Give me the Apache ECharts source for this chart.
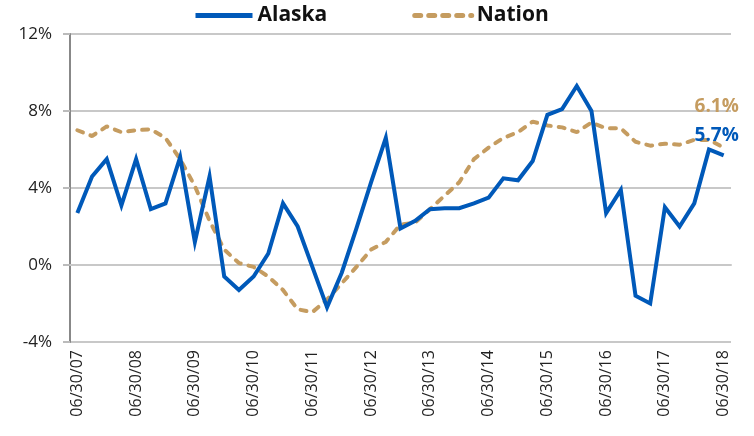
<!DOCTYPE html>
<html>
<head>
<meta charset="utf-8">
<script src="https://cdn.jsdelivr.net/npm/echarts@6/dist/echarts.min.js"></script>
<style>html,body{margin:0;padding:0;background:#fff}#c{width:754px;height:436px}</style>
</head>
<body>
<div id="c"></div>
<script>
const years = ['07','08','09','10','11','12','13','14','15','16','17','18'];
const quarters = ['06/30','09/30','12/31','03/31'];
const categories = [];
for (let y = 0; y < years.length; y++) {
  for (let q = 0; q < 4; q++) {
    if (y === years.length - 1 && q > 0) break;
    const yr = q === 3 ? years[y + 1] : years[y];
    categories.push(quarters[q] + '/' + yr);
  }
}
const alaska = [2.7,4.6,5.5,3.1,5.5,2.9,3.2,5.6,1.2,4.6,-0.6,-1.3,-0.6,0.6,3.2,2.0,-0.1,-2.2,-0.4,1.9,4.3,6.6,1.9,2.3,2.9,2.95,2.95,3.2,3.5,4.5,4.4,5.4,7.8,8.1,9.3,8.0,2.7,3.9,-1.6,-2.0,3.0,2.0,3.2,6.0,5.7];
const nation = [7.0,6.7,7.2,6.9,7.0,7.05,6.6,5.5,4.1,2.3,0.8,0.1,-0.1,-0.6,-1.3,-2.3,-2.45,-1.8,-0.95,-0.1,0.8,1.2,2.1,2.2,2.9,3.6,4.3,5.5,6.1,6.6,6.9,7.45,7.25,7.15,6.9,7.4,7.1,7.1,6.4,6.2,6.3,6.25,6.5,6.5,6.1];
const yTicks = {min: -4, max: 12, interval: 4};
const blue = '#0059B9';
const tan = '#C59C60';

function withEndLabel(arr, color, dy) {
  return arr.map((v, i) => i === arr.length - 1 ? {
    value: v,
    label: {show: true, position: 'top', formatter: v.toFixed(1) + '%', color: color,
      fontSize: 19, fontWeight: 'bold', fontFamily: 'Open Sans', offset: [-7, dy]}
  } : v);
}

const chart = echarts.init(document.getElementById('c'));
chart.setOption({
  animation: false,
  legend: {
    top: 0, left: 188,
    itemWidth: 57, itemHeight: 14, itemGap: 85,
    itemStyle: {opacity: 0},
    lineStyle: {width: 5},
    textStyle: {fontSize: 21, fontWeight: 'bold', color: '#111', fontFamily: 'Open Sans'},
    data: ['Alaska', 'Nation']
  },
  grid: {left: 70, right: 23, top: 34, bottom: 94},
  xAxis: {
    type: 'category', data: categories, boundaryGap: true,
    axisLine: {lineStyle: {color: '#c8c8c8', width: 2}},
    axisTick: {show: false},
    axisLabel: {interval: 3, rotate: 90, fontSize: 16, color: '#222', fontFamily: 'Open Sans', margin: 8}
  },
  yAxis: {
    type: 'value', min: yTicks.min, max: yTicks.max, interval: yTicks.interval,
    axisLine: {show: true, lineStyle: {color: '#888', width: 2}},
    axisTick: {show: true, length: 7, lineStyle: {color: '#bbb', width: 2}},
    axisLabel: {formatter: '{value}%', fontSize: 17, color: '#222', fontFamily: 'Open Sans', margin: 18},
    splitLine: {lineStyle: {color: ['#c8c8c8', '#888', '#c8c8c8', '#c8c8c8', '#c8c8c8'], width: 2}}
  },
  series: [
    {name: 'Alaska', type: 'line', data: withEndLabel(alaska, blue, -5), symbol: 'circle', symbolSize: 0.01, showSymbol: true,
      lineStyle: {color: blue, width: 4, join: 'miter'}, itemStyle: {color: blue}, z: 3},
    {name: 'Nation', type: 'line', data: withEndLabel(nation, tan, -26), symbol: 'circle', symbolSize: 0.01, showSymbol: true,
      lineStyle: {color: tan, width: 4, type: [6, 8], cap: 'round'}, itemStyle: {color: tan}, z: 2}
  ]
});
</script>
</body>
</html>
